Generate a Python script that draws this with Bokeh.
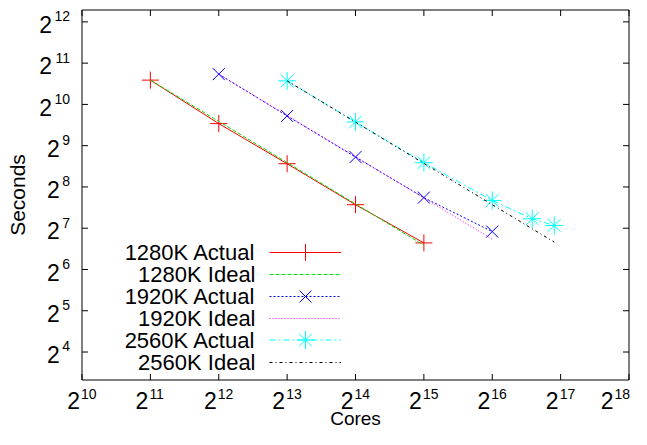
import math
from bokeh.plotting import figure
from bokeh.models import Label, Legend, LegendItem, Range1d
from bokeh.core.properties import value
from bokeh.embed import file_html
from bokeh.resources import INLINE

# ---------------- data ----------------
x_exps = list(range(10, 19))          # tick labels 2^10 .. 2^18
y_exps = list(range(4, 13))           # tick labels 2^4 .. 2^12
x_ticks = [2 ** e for e in x_exps]
y_ticks = [2 ** e for e in y_exps]
x_lim = [1024, 262144]
y_lim = [10, 5000]

cores_1280 = [2048, 4096, 8192, 16384, 32768]
actual_1280 = [1540, 742, 378, 190, 100]
ideal_1280 = [1540, 770, 385, 192.5, 96.25]

cores_1920 = [4096, 8192, 16384, 32768, 65536]
actual_1920 = [1703, 844, 423, 214, 121]
ideal_1920 = [1703, 851.5, 425.75, 212.9, 106.4]

cores_2560 = [8192, 16384, 32768, 65536, 98304, 122880]
actual_2560 = [1521, 763, 385, 204, 150, 134]
ideal_2560 = [1521, 760.5, 380.25, 190.1, 126.75, 101.4]

legend_names = ["1280K Actual", "1280K Ideal", "1920K Actual",
                "1920K Ideal", "2560K Actual", "2560K Ideal"]

# ---------------- layout (pixels) ----------------
FONT = "Liberation Sans"
W, H = 631, 429
BOX_L, BOX_R, BOX_T, BOX_B = 81.5, 628.5, 9.5, 379.5   # plot box in canvas

# the frame covers the whole canvas; the plot box is drawn inside it
kx = (BOX_R - BOX_L) / math.log2(x_lim[1] / x_lim[0])
ky = (BOX_B - BOX_T) / math.log2(y_lim[1] / y_lim[0])
x0 = x_lim[0] * 2 ** (-BOX_L / kx)
x1 = x_lim[1] * 2 ** ((W - BOX_R) / kx)
y0 = y_lim[0] * 2 ** (-(H - BOX_B) / ky)
y1 = y_lim[1] * 2 ** (BOX_T / ky)

p = figure(width=W, height=H, x_axis_type="log", y_axis_type="log",
           x_axis_location=None, y_axis_location=None,
           x_range=Range1d(x0, x1), y_range=Range1d(y0, y1),
           output_backend="svg", toolbar_location=None,
           min_border_left=0, min_border_right=0,
           min_border_top=0, min_border_bottom=0)
p.xgrid.visible = False
p.ygrid.visible = False
p.outline_line_color = None

# ---------------- plot box and inward ticks ----------------
p.quad(left=[x_lim[0]], right=[x_lim[1]], bottom=[y_lim[0]], top=[y_lim[1]],
       fill_color=None, line_color="black", line_width=1)
nx, ny = len(x_ticks), len(y_ticks)
TL = 6
p.ray(x=x_ticks, y=[y_lim[0]] * nx, length=TL, length_units="screen",
      angle=math.pi / 2, line_color="black", line_width=1)
p.ray(x=x_ticks, y=[y_lim[1]] * nx, length=TL, length_units="screen",
      angle=-math.pi / 2, line_color="black", line_width=1)
p.ray(x=[x_lim[0]] * ny, y=y_ticks, length=TL, length_units="screen",
      angle=0, line_color="black", line_width=1)
p.ray(x=[x_lim[1]] * ny, y=y_ticks, length=TL, length_units="screen",
      angle=math.pi, line_color="black", line_width=1)

# ---------------- series ----------------
r1 = p.line(cores_1280, actual_1280, line_color="#ff0000", line_width=1)
s1 = p.scatter(cores_1280, actual_1280, marker="cross", size=17,
               line_color="#ff0000", line_width=1)
r2 = p.line(cores_1280, ideal_1280, line_color="#00e000", line_width=1,
            line_dash="4 2")
r3 = p.line(cores_1920, actual_1920, line_color="#0000ff", line_width=1,
            line_dash="2 2")
s3 = p.scatter(cores_1920, actual_1920, marker="x", size=17,
               line_color="#0000ff", line_width=1)
r4 = p.line(cores_1920, ideal_1920, line_color="#ff00ff", line_width=1,
            line_dash="1 2")
r5 = p.line(cores_2560, actual_2560, line_color="#00ffff", line_width=1,
            line_dash="6 3 2 3")
s5 = p.scatter(cores_2560, actual_2560, marker="asterisk", size=18,
               line_color="#00ffff", line_width=1)
r6 = p.line(cores_2560, ideal_2560, line_color="#000000", line_width=1,
            line_dash="3 3 1 3")


def sy(y_img):
    """screen y (from bottom) for a y measured from the top of the canvas"""
    return H - y_img


# ---------------- tick labels ----------------
SUP = 14
BIG = "23px"
for e in x_exps:
    w_exp = len(str(e)) * 0.556 * SUP
    right_edge = BOX_L + math.log2(2 ** e / x_lim[0]) * kx - 1 + w_exp
    shift = min(0.0, (W - 1.5) - right_edge)
    p.add_layout(Label(x=2 ** e, x_units="data", y=sy(400), y_units="screen",
                       x_offset=-2 + shift, text="2", text_align="right",
                       text_baseline="middle", text_font=FONT,
                       text_font_size=BIG, text_color="black"))
    p.add_layout(Label(x=2 ** e, x_units="data", y=sy(393.7), y_units="screen",
                       x_offset=-1 + shift, text=str(e), text_align="left",
                       text_baseline="middle", text_font=FONT,
                       text_font_size=f"{SUP}px", text_color="black"))

for e in y_exps:
    w_exp = len(str(e)) * 0.556 * SUP
    p.add_layout(Label(x=69.5, x_units="screen", y=2 ** e, y_units="data",
                       y_offset=5.6, text=str(e), text_align="right",
                       text_baseline="middle", text_font=FONT,
                       text_font_size=f"{SUP}px", text_color="black"))
    p.add_layout(Label(x=69.5 - w_exp - 2.5, x_units="screen", y=2 ** e,
                       y_units="data", y_offset=-2.7, text="2",
                       text_align="right", text_baseline="middle",
                       text_font=FONT, text_font_size=BIG,
                       text_color="black"))

# ---------------- axis titles ----------------
p.add_layout(Label(x=17, y=sy((BOX_T + BOX_B) / 2), x_units="screen",
                   y_units="screen", text="Seconds", angle=math.pi / 2,
                   text_align="center", text_baseline="middle",
                   text_font=FONT, text_font_size="21px", text_color="black"))
p.add_layout(Label(x=(BOX_L + BOX_R) / 2, y=sy(417.5), x_units="screen",
                   y_units="screen", text="Cores", text_align="center",
                   text_baseline="middle", text_font=FONT,
                   text_font_size="19px", text_color="black"))

# ---------------- legend ----------------
row_y = [sy(251.7 + 22.05 * i) for i in range(6)]
row_rends = [[r1, s1], [r2], [r3, s3], [r4], [r5, s5], [r6]]
row_gh = [42, 20, 42, 20, 45, 20]
for i, name in enumerate(legend_names):
    p.add_layout(Label(x=255, y=row_y[i], x_units="screen", y_units="screen",
                       text=name, text_align="right", text_baseline="middle",
                       text_font=FONT, text_font_size="22px",
                       text_color="black"))
    gh = row_gh[i]
    leg = Legend(items=[LegendItem(label=value(""), renderers=row_rends[i])],
                 location=(269, row_y[i] - gh / 2),
                 glyph_width=72, glyph_height=gh,
                 label_width=0, label_height=0, label_standoff=0,
                 padding=0, margin=0, spacing=0,
                 border_line_alpha=0, background_fill_alpha=0,
                 label_text_font_size="1px")
    p.add_layout(leg)

open("out.html", "w").write(file_html(p, INLINE))
